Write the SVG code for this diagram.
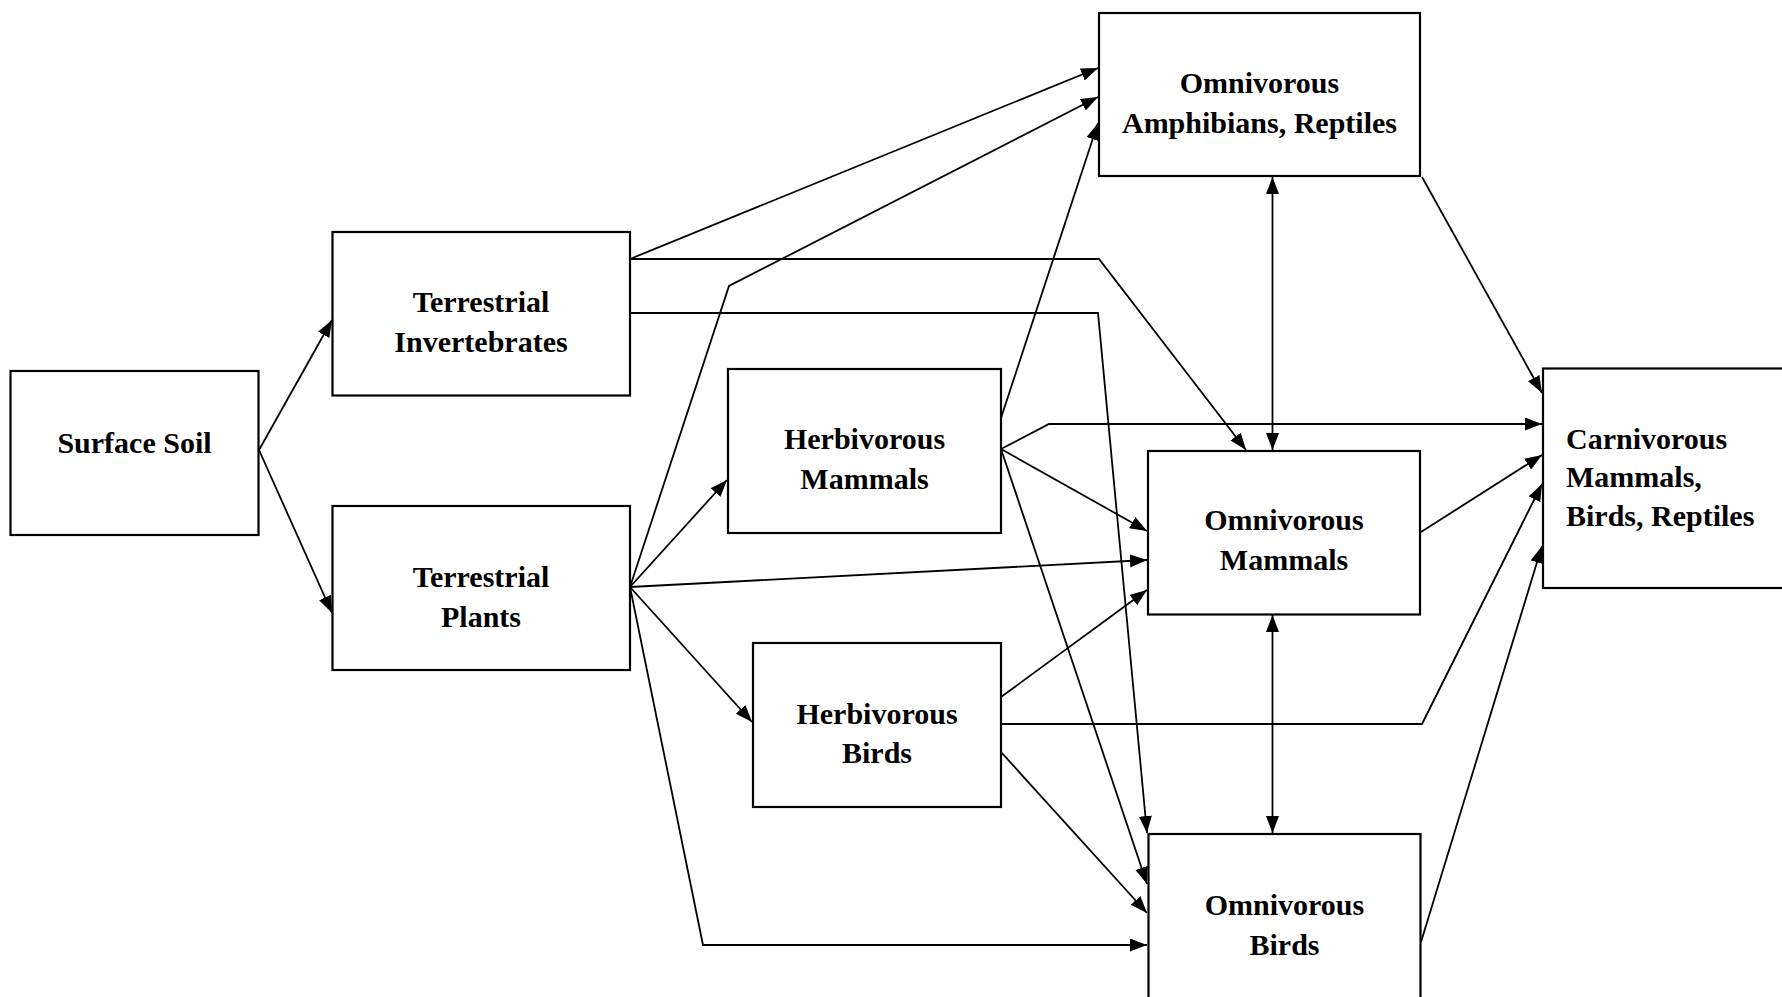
<svg xmlns="http://www.w3.org/2000/svg" width="1782" height="997" viewBox="0 0 1782 997">
<style>
.box{fill:#fff;stroke:#000;stroke-width:2.2}
.lbl{font-family:"Liberation Serif","Times New Roman",serif;font-weight:bold;font-size:30px;fill:#000;text-anchor:middle}
.lft{text-anchor:start}
.con{fill:none;stroke:#000;stroke-width:1.8;marker-end:url(#ah)}
.dbl{marker-start:url(#ah)}
</style>
<defs>
<marker id="ah" markerUnits="userSpaceOnUse" markerWidth="18" markerHeight="14" refX="17" refY="6.5" orient="auto-start-reverse">
<path d="M0,0 L17,6.5 L0,13 z" fill="#000"/>
</marker>
</defs>
<rect width="1782" height="997" fill="#fff"/>
<g id="connectors">
<path class="con" d="M259,450 L332,320"/>
<path class="con" d="M259,450 L332,613"/>
<path class="con" d="M630,259 L1098,68"/>
<path class="con" d="M630,259 L1099,259 L1246,450"/>
<path class="con" d="M630,313 L1098,313 L1147,833"/>
<path class="con" d="M630,587 L729,286 L1098,97"/>
<path class="con" d="M630,587 L727,480"/>
<path class="con" d="M630,587 L1147,560"/>
<path class="con" d="M630,587 L752,722"/>
<path class="con" d="M630,587 L703,945 L1147,945"/>
<path class="con" d="M1000,421 L1098,123"/>
<path class="con" d="M1001,449 L1049,424 L1542,424"/>
<path class="con" d="M1001,449 L1147,531"/>
<path class="con" d="M1001,449 L1147,884"/>
<path class="con" d="M1001,697 L1147,590"/>
<path class="con" d="M1001,724 L1422,724 L1542,484"/>
<path class="con" d="M1001,752 L1147,913"/>
<path class="con" d="M1422,177 L1542,393"/>
<path class="con dbl" d="M1272.5,177 L1272.5,450"/>
<path class="con" d="M1421,532 L1542,455"/>
<path class="con dbl" d="M1272.5,615 L1272.5,833"/>
<path class="con" d="M1421,942 L1542,546"/>
</g>
<g id="surface-soil">
<rect class="box" x="10.5" y="371" width="248" height="164"/>
<text class="lbl" x="134.5" y="453">Surface Soil</text>
</g>
<g id="terrestrial-invertebrates">
<rect class="box" x="332.5" y="232" width="297.5" height="163.5"/>
<text class="lbl" x="481" y="312">Terrestrial</text>
<text class="lbl" x="481" y="352">Invertebrates</text>
</g>
<g id="terrestrial-plants">
<rect class="box" x="332.5" y="506" width="297.5" height="164"/>
<text class="lbl" x="481" y="587">Terrestrial</text>
<text class="lbl" x="481" y="627">Plants</text>
</g>
<g id="herbivorous-mammals">
<rect class="box" x="728" y="369" width="273" height="164"/>
<text class="lbl" x="864.5" y="449">Herbivorous</text>
<text class="lbl" x="864.5" y="489">Mammals</text>
</g>
<g id="herbivorous-birds">
<rect class="box" x="753" y="643" width="248" height="164"/>
<text class="lbl" x="877" y="724">Herbivorous</text>
<text class="lbl" x="877" y="763">Birds</text>
</g>
<g id="omnivorous-amphibians-reptiles">
<rect class="box" x="1099" y="13" width="321" height="163"/>
<text class="lbl" x="1259.5" y="93">Omnivorous</text>
<text class="lbl" x="1259.5" y="132.5">Amphibians, Reptiles</text>
</g>
<g id="omnivorous-mammals">
<rect class="box" x="1148" y="451" width="272" height="163.5"/>
<text class="lbl" x="1284" y="530">Omnivorous</text>
<text class="lbl" x="1284" y="569.5">Mammals</text>
</g>
<g id="omnivorous-birds">
<rect class="box" x="1148.5" y="834" width="272" height="200"/>
<text class="lbl" x="1284.5" y="915">Omnivorous</text>
<text class="lbl" x="1284.5" y="955">Birds</text>
</g>
<g id="carnivorous">
<rect class="box" x="1543" y="368.5" width="260" height="219.5"/>
<text class="lbl lft" x="1566" y="449">Carnivorous</text>
<text class="lbl lft" x="1566" y="487">Mammals,</text>
<text class="lbl lft" x="1566" y="526">Birds, Reptiles</text>
</g>
</svg>
